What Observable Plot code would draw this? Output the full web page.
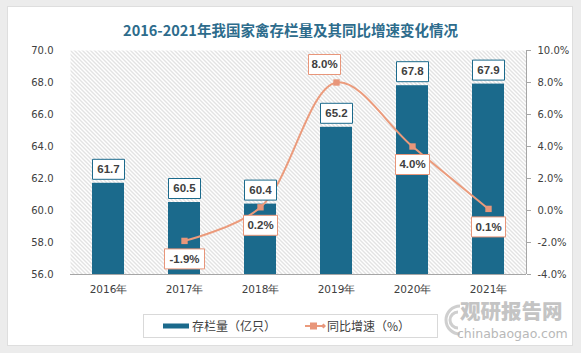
<!DOCTYPE html>
<html>
<head>
<meta charset="utf-8">
<script src="https://cdn.jsdelivr.net/npm/d3@7"></script>
<script src="https://cdn.jsdelivr.net/npm/@observablehq/plot@0.6"></script>
<style>
  body { margin: 0; background: #fff; }
  #wrap { position: relative; width: 581px; height: 353px; background: #ececec; overflow: hidden; font-family: "DejaVu Sans", sans-serif; }
  #card { position: absolute; left: 7px; top: 6px; width: 566px; height: 340px; background: #fff; border: 1px solid #dedede; box-sizing: border-box; }
  #title { position: absolute; left: 0; top: 20px; width: 581px; text-align: center; font-family: "Noto Sans CJK SC", sans-serif; font-weight: 700; font-size: 14.5px; line-height: 20px; color: #2d6c8c; }
  #chart { position: absolute; left: 0; top: 0; }
  #legend { position: absolute; left: 143px; top: 314px; width: 295px; height: 24px; border: 1px solid #d9d9d9; box-sizing: border-box; background: #fff; font-family: "Noto Sans CJK SC", sans-serif; font-size: 12px; color: #404040; }
  .li { position: absolute; top: 3px; line-height: 16px; display: flex; align-items: center; }
  #wm { position: absolute; left: 440px; top: 298px; width: 135px; height: 44px; color: #c4c4c4; }
  #wm .cn { position: absolute; left: 20px; top: 1px; font-family: "Noto Sans CJK SC", sans-serif; font-weight: 900; font-size: 20.5px; line-height: 22px; }
  #wm .en { position: absolute; left: 17px; top: 29px; font-family: "DejaVu Sans", sans-serif; font-size: 12.5px; line-height: 14px; color: #b8b8b8; }
</style>
</head>
<body>
<div id="wrap">
  <div id="card"></div>
  <div id="title">2016-2021年我国家禽存栏量及其同比增速变化情况</div>
  <div id="chart"></div>
  <div id="wm">
    <svg width="24" height="40" style="position:absolute;left:0;top:2px">
      <path d="M20,6 A14,14 0 1 0 20,34" fill="none" stroke="#cfcfcf" stroke-width="3"/>
      <path d="M18,12 A8,8 0 1 0 18,28" fill="none" stroke="#cfcfcf" stroke-width="3"/>
    </svg>
    <div class="cn">观研报告网</div>
    <div class="en">chinabaogao.com</div>
  </div>
  <div id="legend">
    <div class="li" style="left:19px">
      <svg width="26" height="8" style="margin-right:3px"><rect x="0" y="1.5" width="26" height="5" fill="#1b6a8c"/></svg>存栏量（亿只）
    </div>
    <div class="li" style="left:161px">
      <svg width="21" height="10" style="margin-right:1px"><line x1="0" y1="5" x2="19" y2="5" stroke="#eb9b7c" stroke-width="2"/><rect x="5" y="1.5" width="7" height="7" fill="#e8967a"/><path d="M16,5 L18.5,2.5 L21,5 L18.5,7.5Z" fill="#e8967a"/></svg>同比增速（%）
    </div>
  </div>
</div>
<script>
// ---- data ----
const years = ["2016年", "2017年", "2018年", "2019年", "2020年", "2021年"];
const stock = [61.7, 60.5, 60.4, 65.2, 67.8, 67.9];          // 存栏量（亿只）
const growth = [null, -1.9, 0.2, 8.0, 4.0, 0.1];             // 同比增速（%）
const leftTicks = [56, 58, 60, 62, 64, 66, 68, 70];
const rightTicks = [-4, -2, 0, 2, 4, 6, 8, 10];

// secondary axis mapping (percent -> primary scale)
const pctToY = d3.scaleLinear([-4, 10], [56, 70]);

const bars = years.map((y, i) => ({year: y, value: stock[i]}));
const line = years.map((y, i) => ({year: y, g: growth[i]})).filter(d => d.g != null);

const barColor = "#1b6a8c";
const lineColor = "#eb9b7c";
const markColor = "#e8967a";
const txt = "#404040";

function box(w, h) {
  return {draw(ctx) { ctx.rect(-w / 2, -h / 2, w, h); }};
}

const lblFont = {fontFamily: "Liberation Sans, Arial, sans-serif", fontWeight: "bold", fontSize: 11.5, fill: txt};

const peak = d => d.g === d3.max(line, e => e.g);
const fmtPct = d => {
  const v = Math.round(pctToY.invert(d) * 10) / 10;
  return (v === 0 ? 0 : v).toFixed(1) + "%";
};

const chart = Plot.plot({
  width: 581,
  height: 300,
  marginLeft: 70,
  marginRight: 55,
  marginTop: 50,
  marginBottom: 26,
  style: {background: "transparent", overflow: "visible", fontFamily: "DejaVu Sans, sans-serif", fontSize: "10px", color: txt},
  x: {domain: years, paddingInner: 0.58, paddingOuter: 0.29, label: null},
  y: {domain: [56, 70], label: null},
  marks: [
    Plot.frame({fill: "url(#hatch)", stroke: "none"}),
    Plot.barY(bars, {x: "year", y1: 56, y2: "value", fill: barColor}),
    Plot.ruleY([56], {stroke: "#a6a6a6"}),
    Plot.axisY({anchor: "left", ticks: leftTicks, tickFormat: d => d.toFixed(1), tickSize: 0, tickPadding: 17, label: null, fill: txt}),
    Plot.axisY({anchor: "right", ticks: rightTicks.map(pctToY), tickFormat: fmtPct, tickSize: 4, tickPadding: 7, stroke: "#a6a6a6", label: null, fill: txt}),
    Plot.axisX({tickSize: 0, tickPadding: 11, label: null, fill: txt, fontSize: 10.5}),
    Plot.line(line, {x: "year", y: d => pctToY(d.g), stroke: lineColor, strokeWidth: 2, curve: "catmull-rom"}),
    Plot.dot(line, {x: "year", y: d => pctToY(d.g), symbol: "square", r: 3.6, fill: markColor, stroke: "none"}),
    // bar value labels
    Plot.dot(bars, {x: "year", y: "value", dy: -14, symbol: box(32, 20), fill: "white", stroke: barColor, strokeWidth: 1}),
    Plot.text(bars, {x: "year", y: "value", dy: -14, text: d => d.value.toFixed(1), ...lblFont}),
    // growth labels (below points)
    Plot.dot(line.filter(d => !peak(d) && d.g < 0), {x: "year", y: d => pctToY(d.g), dy: 18, symbol: box(40, 20), fill: "white", stroke: markColor, strokeWidth: 1}),
    Plot.dot(line.filter(d => !peak(d) && d.g >= 0), {x: "year", y: d => pctToY(d.g), dy: 18, symbol: box(34, 20), fill: "white", stroke: markColor, strokeWidth: 1}),
    Plot.text(line.filter(d => !peak(d)), {x: "year", y: d => pctToY(d.g), dy: 18, text: d => d.g.toFixed(1) + "%", ...lblFont}),
    // peak label (above-left)
    Plot.dot(line.filter(peak), {x: "year", y: d => pctToY(d.g), dx: -12, dy: -18, symbol: box(32, 20), fill: "white", stroke: markColor, strokeWidth: 1}),
    Plot.text(line.filter(peak), {x: "year", y: d => pctToY(d.g), dx: -12, dy: -18, text: d => d.g.toFixed(1) + "%", ...lblFont})
  ]
});

// hatch pattern + right axis line, derived from the plot's own scales
const ns = "http://www.w3.org/2000/svg";
const defs = document.createElementNS(ns, "defs");
defs.innerHTML = '<pattern id="hatch" patternUnits="userSpaceOnUse" width="4" height="4"><path d="M-1,-1 L5,5 M3,-1 L5,1 M-1,3 L1,5" stroke="#c6c6c6" stroke-width="1"/></pattern>';
chart.insertBefore(defs, chart.firstChild);
const xr = chart.scale("x").range, yr = chart.scale("y").range;
const ax = document.createElementNS(ns, "line");
ax.setAttribute("x1", xr[1] + 0.5); ax.setAttribute("x2", xr[1] + 0.5);
ax.setAttribute("y1", yr[0]); ax.setAttribute("y2", yr[1]);
ax.setAttribute("stroke", "#a6a6a6");
chart.appendChild(ax);

document.getElementById("chart").appendChild(chart);
</script>
</body>
</html>
